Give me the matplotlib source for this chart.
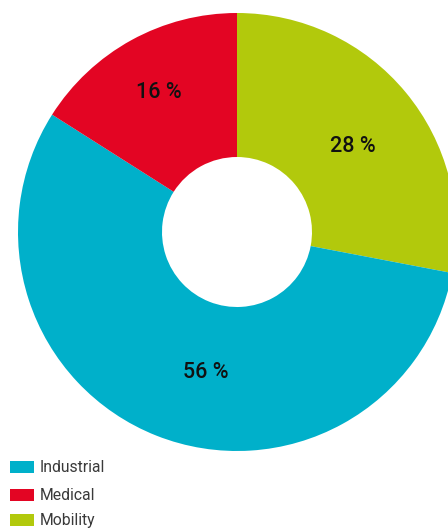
import matplotlib
matplotlib.use("Agg")
import matplotlib.pyplot as plt
from matplotlib.patches import Rectangle

# Data (clockwise from top)
categories = ["Mobility", "Industrial", "Medical"]
values = [28, 56, 16]
labels = ["28 %", "56 %", "16 %"]
colors = ["#B2C90C", "#00B0CA", "#E30523"]
legend_order = ["Industrial", "Medical", "Mobility"]

W, H = 448, 528
fig = plt.figure(figsize=(W / 100, H / 100), dpi=100)
ax = fig.add_axes([0, 0, 1, 1])

cx, cy, R, r_in = 237, H - 232, 219, 75
wedges, _ = ax.pie(values, colors=colors, startangle=90, counterclock=False,
                   center=(cx, cy), radius=R,
                   wedgeprops=dict(width=R - r_in, edgecolor="none"))

label_px = {"Mobility": (353, 147), "Industrial": (206, 372), "Medical": (159, 93)}
for cat, lab in zip(categories, labels):
    x, y = label_px[cat]
    ax.text(x, H - y, lab, ha="center", va="center", fontsize=15.5,
            fontfamily="Roboto", fontweight="medium", color="#111111")

leg_y = {"Industrial": 467, "Medical": 495, "Mobility": 520}
col_map = dict(zip(categories, colors))
for cat in legend_order:
    y = H - leg_y[cat]
    ax.add_patch(Rectangle((10, y - 6), 24, 12, facecolor=col_map[cat], edgecolor="none"))
    ax.text(40, y, cat, ha="left", va="center", fontsize=11.3,
            fontfamily="Roboto", fontweight="normal", color="#3a3a3a")

ax.set_xlim(0, W)
ax.set_ylim(0, H)
ax.set_aspect("auto")
ax.axis("off")
fig.savefig("out.png", dpi=100)
